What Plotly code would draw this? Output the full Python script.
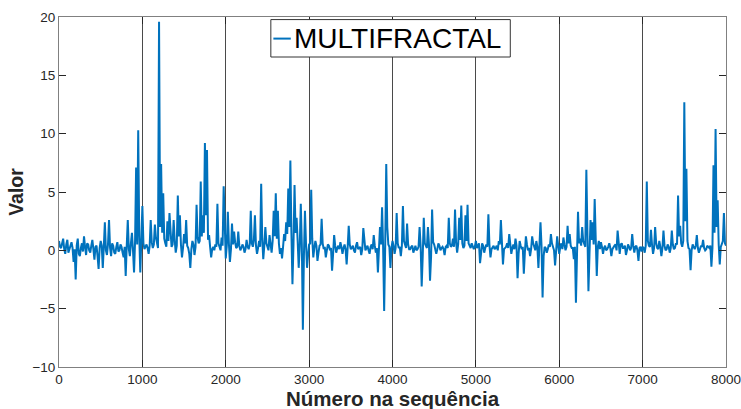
import plotly.graph_objects as go

# Values, every 25 steps of the sequence (main samples)
step = 25

seg_0 = [0.8, 0.2, 1.0, -0.3, 0.9, 0.1, 0.7, -1.0, -2.5, 1.0,
         -0.5, 0.6, 1.2, -0.4, 0.5, -0.2, 0.9, -0.8, 0.4, -1.6,
         0.8, -1.5, 2.4, -0.4, 2.6, -0.5, 0.4, -0.3, 0.7, 0.0,
         0.3, -0.6, -2.2, 2.6, -0.5, 1.5, -1.9, 7.1, 10.3, -1.9]
seg_1 = [3.8, 0.1, 0.5, -0.3, 2.6, 0.2, 2.2, 0.5, 19.6, 7.4,
         4.9, 0.6, 2.5, 3.2, 0.3, 2.6, -0.2, 4.7, 3.0, -0.6,
         1.4, 2.6, 0.2, -1.5, 0.8, -0.4, 3.9, 0.6, 5.9, 3.0,
         9.2, 8.6, 1.3, -0.6, 0.3, 0.5, 4.0, 0.2, 1.1, 5.5]
seg_2 = [-0.7, 3.3, -1.0, 2.3, 1.6, 0.2, 1.6, 0.0, 0.5, -0.2,
         0.9, 0.1, 3.4, 0.3, 3.0, -0.3, 0.8, 5.7, -0.75, 2.0,
         0.2, 1.3, -0.2, 3.4, 4.9, 3.4, -0.3, -0.7, 1.4, 2.4,
         5.3, 7.7, -2.9, 5.6, 2.8, -1.5, 4.0, -6.8, 3.4, -1.5]
seg_3 = [0.5, 5.2, -0.6, 0.8, -0.9, 0.4, 2.7, 0.1, -0.6, 0.5,
         0.0, -1.75, 1.3, -0.2, 0.4, 0.7, -0.3, 0.5, -1.2, 2.1,
         0.1, 0.4, -0.2, 0.7, 0.2, -0.4, 1.9, 0.0, 0.4, -0.3,
         0.5, 1.3, -0.2, -1.9, 2.0, 3.7, -5.2, 7.4, 0.5, -1.5]
seg_4 = [0.8, -0.3, 3.2, 0.2, -0.5, 3.8, 0.4, 2.3, 0.1, 0.3,
         -0.2, 0.4, 0.1, 2.0, -3.1, 2.8, 0.3, 2.0, -2.6, 3.5,
         0.5, -0.3, 0.6, 0.0, 0.3, -0.4, 0.4, 2.8, 0.3, 1.0,
         3.5, -0.2, 2.8, 3.85, 0.2, 3.0, 3.9, 0.3, 0.6, 0.1]
seg_5 = [0.8, 0.4, -1.1, 0.6, -0.2, 0.5, 3.1, -0.6, 0.3, 0.1,
         0.4, 0.8, 2.6, -1.2, 0.2, 0.6, 1.4, -0.3, 0.5, 1.0,
         -2.4, 0.8, 0.1, -2.0, 1.2, 0.0, -0.5, 1.2, 0.3, 0.8,
         -1.5, 2.4, -4.05, 0.3, -0.2, 0.5, 1.4, 0.2, -1.3, 1.2]
seg_6 = [-0.3, 0.6, 1.1, 0.0, 2.1, 1.4, 0.2, -0.75, -4.5, 3.3,
         1.0, 2.0, 0.5, 6.9, -3.5, 2.6, 2.4, 4.4, -2.2, 0.8,
         0.7, -0.3, 0.4, 0.1, 0.6, -0.5, 0.3, 0.5, 1.7, -0.3,
         0.6, 0.2, -0.4, 0.5, 0.0, 1.4, -0.2, 0.4, -0.9, 0.3]
seg_7 = [0.3, -0.2, 5.9, 0.4, 1.75, -0.3, 2.0, 0.2, 0.8, -0.5,
         1.7, 0.0, 0.5, -0.2, 1.7, 0.1, 0.6, 4.7, 2.1, 0.3,
         12.7, 7.0, 0.2, -1.7, 0.5, 0.1, 1.3, -0.2, 0.4, 0.9,
         0.0, 0.4, 0.2, -1.4, 7.3, 10.4, 4.3, -1.2, 0.5, 3.2, 0.4]

# Values read half-way between the main samples (baseline band of the series)
mid_0 = [0.3, 0.6, 0.1, 0.5, -0.2, 0.4, 0.2, 0.1, 0.4, -0.3,
         0.2, -0.1, 0.3, 0.6, 0.0, 0.4, 0.1, 0.3, -0.5, 0.2,
         0.4, 0.3, 0.0, 0.5, 0.2, 0.6, -0.2, 0.3, -0.1, 0.5,
         -0.2, 0.3, 0.4, 0.1, 0.6, 0.0, 0.8, 0.5, 1.2, 0.9]
mid_1 = [0.6, 0.3, 0.2, 0.4, 0.7, 0.5, 1.1, 0.2, 2.0, 1.5,
         1.0, 0.3, 0.8, 1.0, 0.5, 0.9, 0.4, 1.2, 0.5, 0.2,
         0.6, 0.4, -0.3, 0.1, 0.5, 0.3, 1.1, 0.8, 1.2, 1.5,
         3.0, 0.9, 0.3, 0.1, 0.0, 0.3, 0.6, 0.0, 0.4, 0.8]
mid_2 = [0.4, 0.6, 0.1, 0.5, 0.7, 0.3, 0.4, 0.2, 0.3, 0.1,
         0.3, 0.5, 0.6, 0.9, 0.4, 0.2, 0.3, 1.0, 0.4, 0.6,
         0.0, 0.5, 0.8, 1.2, 1.0, 0.6, 0.2, 0.3, 0.8, 1.4,
         2.0, 1.5, 0.5, 1.5, 0.8, 0.3, 0.5, -0.5, 0.6, -0.4]
mid_3 = [0.6, 1.0, 0.2, 0.4, -0.2, 0.5, 0.6, 0.3, 0.0, 0.4,
         0.2, -0.3, 0.4, 0.2, 0.1, 0.3, 0.2, 0.1, 0.3, 0.5,
         0.2, 0.0, 0.4, 0.1, 0.3, 0.1, 0.5, 0.2, 0.0, 0.3,
         0.1, 0.4, 0.2, 0.1, 0.5, 0.3, 0.4, 2.0, 0.3, 0.2]
mid_4 = [0.4, 0.2, 0.6, 0.3, 0.4, 0.8, 0.2, 0.5, 0.1, 0.4,
         0.2, 0.0, 0.3, 0.4, -0.5, 0.6, 0.2, 0.5, -0.6, 0.7,
         0.2, 0.1, 0.4, 0.2, 0.1, 0.3, 0.2, 0.6, 0.4, 0.3,
         0.7, 0.5, 0.9, 0.6, 0.4, 0.8, 0.6, 0.2, 0.4, 0.3]
mid_5 = [0.2, 0.6, 0.1, 0.4, 0.2, 0.3, 0.5, 0.1, 0.4, 0.2,
         0.0, 0.5, 0.4, 0.1, 0.3, 0.2, 0.5, 0.2, 0.1, 0.4,
         -0.3, 0.4, 0.3, -0.2, 0.5, 0.2, 0.1, 0.6, 0.0, 0.3,
         0.1, 0.4, -0.5, 0.2, 0.1, 0.3, 0.6, 0.0, 0.2, 0.4]
mid_6 = [0.3, 0.1, 0.5, 0.3, 0.6, 0.4, 0.2, 0.3, -0.5, 0.6,
         0.4, 0.8, 0.3, 0.5, -0.4, 0.9, 0.5, 1.0, 0.3, 0.1,
         0.3, 0.2, 0.0, 0.3, 0.2, 0.1, 0.4, 0.0, 0.3, 0.5,
         0.2, 0.4, 0.0, 0.3, 0.2, 0.4, 0.3, 0.0, 0.2, -0.1]
mid_7 = [0.2, 0.4, 0.8, 0.3, 0.5, 0.2, 0.6, 0.1, 0.3, 0.2,
         0.4, 0.1, 0.3, 0.2, 0.5, 0.2, 0.5, 1.2, 0.6, 0.8,
         2.5, 0.8, 0.1, 0.0, 0.3, 0.4, 0.2, 0.1, 0.3, 0.2,
         0.1, 0.3, 0.4, 0.2, 1.5, 2.0, 0.5, 0.3, 0.8, 0.6]

main_values = seg_0 + seg_1 + seg_2 + seg_3 + seg_4 + seg_5 + seg_6 + seg_7
mid_values = mid_0 + mid_1 + mid_2 + mid_3 + mid_4 + mid_5 + mid_6 + mid_7

points = [(i * step, v) for i, v in enumerate(main_values)]
points += [(i * step + step / 2, v) for i, v in enumerate(mid_values)]
points.sort()
positions = [p[0] for p in points]
values = [p[1] for p in points]

x_ticks = [0, 1000, 2000, 3000, 4000, 5000, 6000, 7000, 8000]
y_ticks = [-10, -5, 0, 5, 10, 15, 20]
series_name = "MULTIFRACTAL"
x_title = "Número na sequência"
y_title = "Valor"

blue = "#0072BD"
font_family = "Liberation Sans, Arial, Helvetica, sans-serif"

fig = go.Figure()
fig.add_trace(go.Scatter(x=positions, y=values, mode="lines",
                         line=dict(color=blue, width=2),
                         name=series_name, showlegend=False))

axis_common = dict(showline=True, linecolor="#808080", linewidth=1,
                   mirror="ticks", ticks="inside", tickcolor="#262626",
                   ticklen=7, zeroline=False, automargin=False,
                   ticklabeloverflow="allow",
                   tickfont=dict(family=font_family, size=13.5, color="#262626"))

fig.update_xaxes(range=[0, 8000], tickvals=x_ticks, showgrid=True,
                 gridcolor="#4a4a4a", gridwidth=1, **axis_common)
fig.update_yaxes(range=[-10, 20], tickvals=y_ticks, showgrid=False,
                 title=dict(text="<b>" + y_title + "</b>", standoff=3,
                            font=dict(family=font_family, size=19.5, color="#262626")),
                 **axis_common)

# X axis title placed just below the tick labels
fig.add_annotation(xref="paper", yref="paper", x=0.5, y=-0.0914,
                   xanchor="center", yanchor="middle", showarrow=False,
                   text="<b>" + x_title + "</b>",
                   font=dict(family=font_family, size=20.5, color="#262626"))

# Legend drawn as a box with a short line sample and a label
fig.add_shape(type="rect", xref="paper", yref="paper",
              x0=0.3176, x1=0.6766, y0=0.8857, y1=0.9926,
              line=dict(color="#333333", width=1), fillcolor="white", layer="above")
fig.add_shape(type="line", xref="paper", yref="paper",
              x0=0.3214, x1=0.3475, y0=0.9383, y1=0.9383,
              line=dict(color=blue, width=2), layer="above")
fig.add_annotation(xref="paper", yref="paper", x=0.3500, y=0.9383,
                   xanchor="left", yanchor="middle", showarrow=False,
                   text=series_name,
                   font=dict(family=font_family, size=28, color="black"))

fig.update_layout(width=741, height=409,
                  margin=dict(l=59, r=15, t=17, b=42),
                  paper_bgcolor="white", plot_bgcolor="white",
                  showlegend=False)

fig.write_html("out.html", config={"displayModeBar": False},
               post_script="document.body.style.margin='0';document.body.style.overflow='hidden';")
